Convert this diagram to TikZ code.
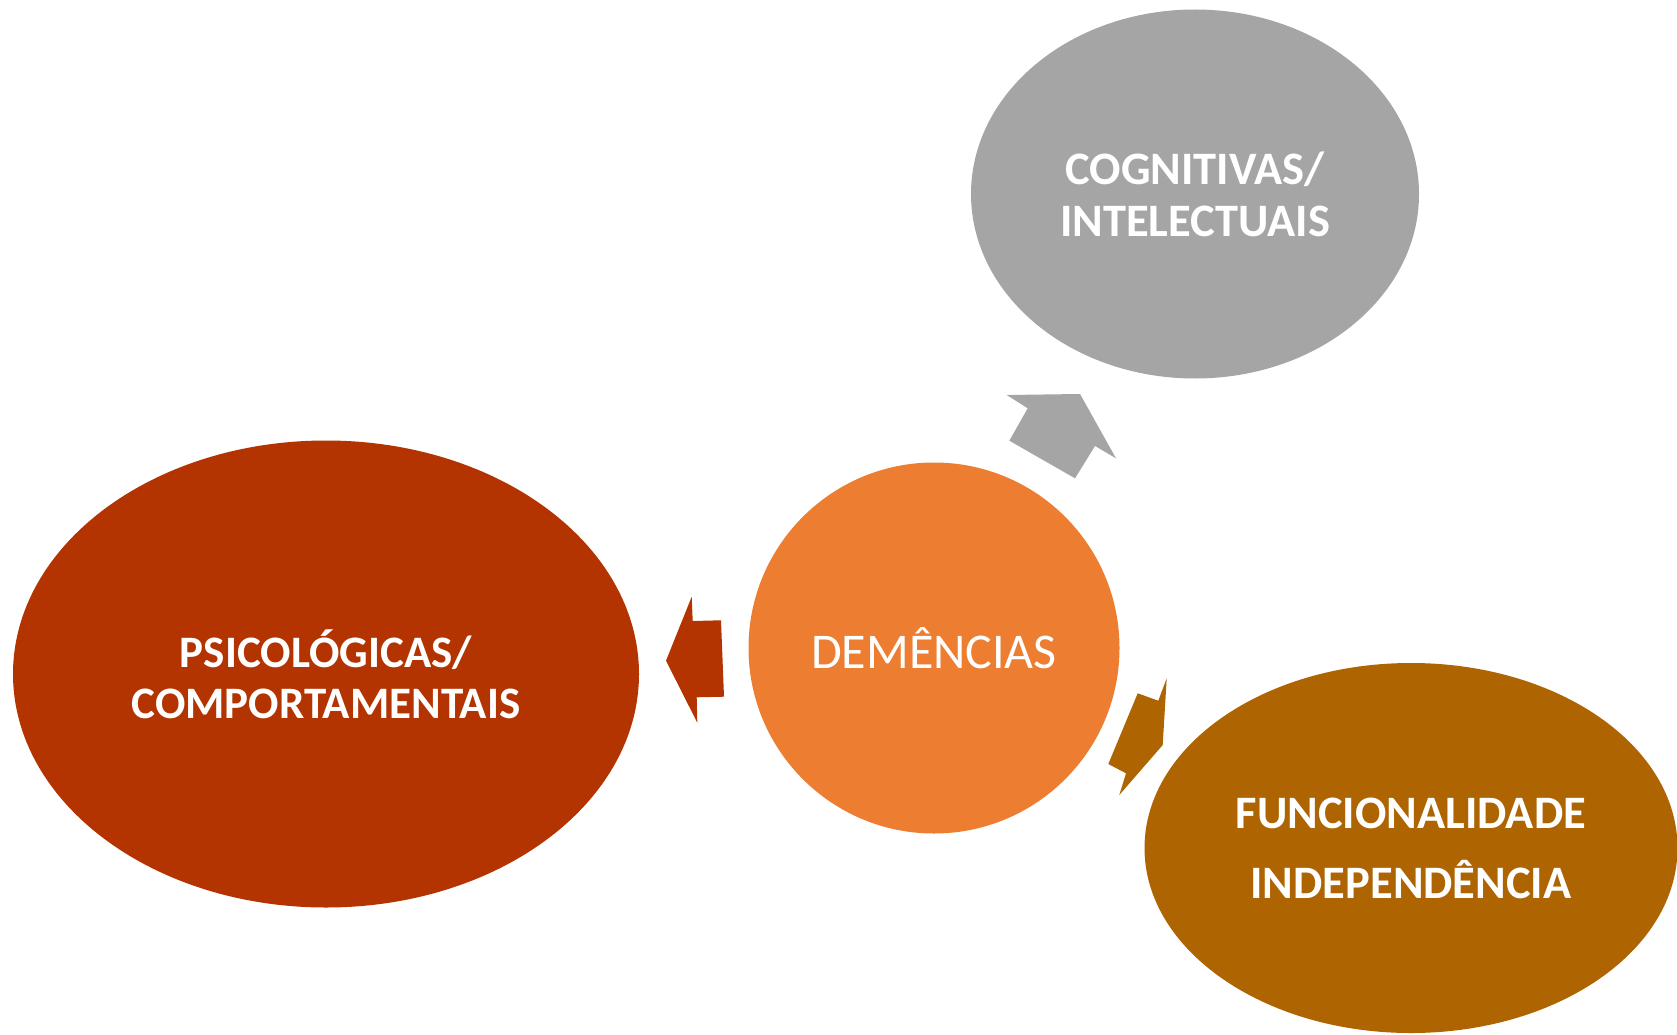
\documentclass[tikz,border=0pt]{standalone}
\usepackage{fontspec}
\setmainfont{Carlito}
\usepackage{tikz}
\usetikzlibrary{calc,positioning,shapes}
\definecolor{cinza}{HTML}{A5A5A5}
\definecolor{laranja}{HTML}{ED7D31}
\definecolor{tijolo}{HTML}{B33400}
\definecolor{ocre}{HTML}{AE6400}

\begin{document}
\begin{tikzpicture}[x=1pt,y=-1pt,semithick]
\tikzstyle{bolha}=[ellipse,draw=none,inner sep=0pt,text=white,align=center,font=\bfseries\fontsize{46.5}{52}\selectfont]
\tikzstyle{seta}=[draw=none]
\useasboundingbox (0,0) rectangle (1677,1035);

\node[bolha,fill=laranja,circle,minimum size=371,font=\fontsize{50}{56}\selectfont] (dem) at (934,648) {DEMÊNCIAS};
\node[bolha,fill=cinza,minimum width=448,minimum height=369] (cog) at (1195,194) {COGNITIVAS/\\INTELECTUAIS};
\node[bolha,fill=tijolo,minimum width=626,minimum height=467,font=\bfseries\fontsize{45}{51}\selectfont] (psi) at (326,674) {PSICOLÓGICAS/\\COMPORTAMENTAIS};
\node[bolha,fill=ocre,minimum width=533,minimum height=370] (fun) at (1411,848) {FUNCIONALIDADE\\[18pt]INDEPENDÊNCIA};

% setas
\fill[seta,cinza] (1006.7,395) -- (1080,394) -- (1116,458.3) -- (1095,446) -- (1075,478.3)
  -- (1009.3,440.7) -- (1027.7,408.3) -- cycle;
\fill[seta,tijolo] (666,660.7) -- (691.7,596.7) -- (692.7,621) -- (721,620.3) -- (724,696.7)
  -- (696.7,697.3) -- (697.3,722.7) -- cycle;
\fill[seta,ocre] (1166.7,678.3) -- (1162.7,745) -- (1119.3,795) -- (1126,773.3) -- (1108.3,764)
  -- (1137.7,693.3) -- (1158.3,700.7) -- cycle;
\end{tikzpicture}
\end{document}
